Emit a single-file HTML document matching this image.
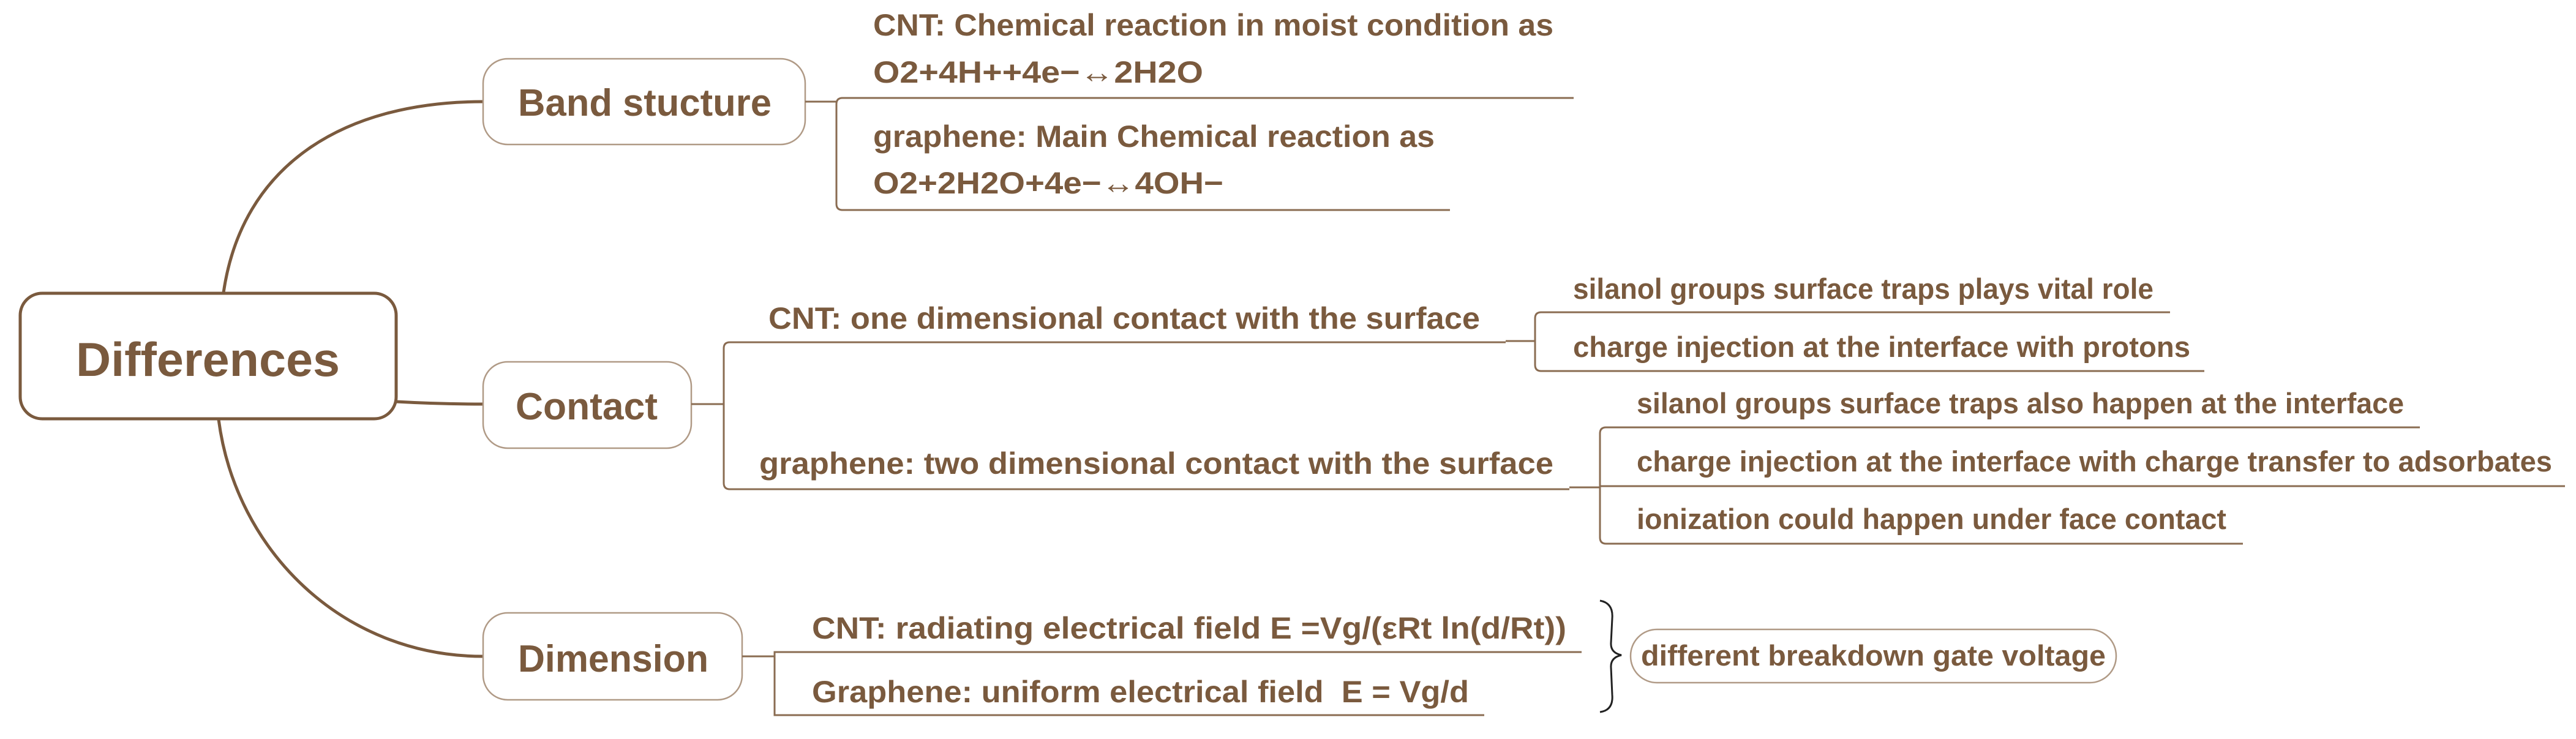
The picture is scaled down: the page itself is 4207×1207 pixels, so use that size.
<!DOCTYPE html>
<html><head><meta charset="utf-8"><style>
html,body{margin:0;padding:0;background:#fff;}
svg{display:block;}
text{font-family:"Liberation Sans","DejaVu Sans",sans-serif;font-weight:bold;fill:#7a5a3e;}
</style></head><body>
<svg width="4207" height="1207" viewBox="0 0 4207 1207" xmlns="http://www.w3.org/2000/svg">
<g fill="none" stroke="#7a5a3e" stroke-linecap="round">
  <path d="M365 478 C395 270 560 166 789 166" stroke-width="5"/>
  <path d="M647 656 C700 659 740 660 789 660" stroke-width="5"/>
  <path d="M357 685 C385 900 560 1072 789 1072" stroke-width="5"/>
</g>
<rect x="33" y="479" width="614" height="205" rx="36" fill="#fff" stroke="#7a5a3e" stroke-width="5"/>
<rect x="789" y="96" width="526" height="140" rx="40" fill="#fff" stroke="#b09a86" stroke-width="2.5"/>
<rect x="789" y="591" width="340" height="141" rx="40" fill="#fff" stroke="#b09a86" stroke-width="2.5"/>
<rect x="789" y="1001" width="423" height="142" rx="40" fill="#fff" stroke="#b09a86" stroke-width="2.5"/>
<rect x="2663" y="1028" width="793" height="87" rx="43" fill="#fff" stroke="#b09a86" stroke-width="2.5"/>

<g fill="none" stroke="#8a6c52" stroke-width="3">
  <path d="M1315 166 H1366"/>
  <path d="M2570 160 H1376 Q1366 160 1366 170 V333 Q1366 343 1376 343 H2368"/>
  <path d="M1129 660 H1182"/>
  <path d="M2459 559 H1192 Q1182 559 1182 569 V789 Q1182 799 1192 799 H2563"/>
  <path d="M2459 557 H2507"/>
  <path d="M3544 510 H2517 Q2507 510 2507 520 V596 Q2507 606 2517 606 H3600"/>
  <path d="M2563 796 H2613"/>
  <path d="M3952 698 H2623 Q2613 698 2613 708 V878 Q2613 888 2623 888 H3663"/>
  <path d="M2613 794 H4189"/>
  <path d="M1212 1072 H1265"/>
  <path d="M2583 1065 H1265 V1168 H2424"/>
</g>
<path d="M2613 981 Q2635 985 2633 1010 L2631 1050 Q2630 1066 2648 1070 Q2630 1074 2631 1090 L2633 1135 Q2635 1160 2613 1163" fill="none" stroke="#222" stroke-width="3"/>

<text x="124" y="614" font-size="78" textLength="431" lengthAdjust="spacingAndGlyphs">Differences</text>
<text x="846" y="189" font-size="62" textLength="414" lengthAdjust="spacingAndGlyphs">Band stucture</text>
<text x="842" y="685" font-size="62" textLength="232" lengthAdjust="spacingAndGlyphs">Contact</text>
<text x="846" y="1097" font-size="62" textLength="311" lengthAdjust="spacingAndGlyphs">Dimension</text>

<text x="1426" y="58" font-size="50" textLength="1111" lengthAdjust="spacingAndGlyphs">CNT: Chemical reaction in moist condition as</text>
<text x="1426" y="135" font-size="50" textLength="539" lengthAdjust="spacingAndGlyphs">O2+4H++4e−↔2H2O</text>
<text x="1426" y="240" font-size="50" textLength="917" lengthAdjust="spacingAndGlyphs">graphene: Main Chemical reaction as</text>
<text x="1426" y="316" font-size="50" textLength="572" lengthAdjust="spacingAndGlyphs">O2+2H2O+4e−↔4OH−</text>

<text x="1255" y="537" font-size="50" textLength="1162" lengthAdjust="spacingAndGlyphs">CNT: one dimensional contact with the surface</text>
<text x="1240" y="774" font-size="50" textLength="1297" lengthAdjust="spacingAndGlyphs">graphene: two dimensional contact with the surface</text>

<text x="2569" y="488" font-size="47" textLength="948" lengthAdjust="spacingAndGlyphs">silanol groups surface traps plays vital role</text>
<text x="2569" y="583" font-size="47" textLength="1008" lengthAdjust="spacingAndGlyphs">charge injection at the interface with protons</text>
<text x="2673" y="675" font-size="47" textLength="1253" lengthAdjust="spacingAndGlyphs">silanol groups surface traps also happen at the interface</text>
<text x="2673" y="770" font-size="47" textLength="1495" lengthAdjust="spacingAndGlyphs">charge injection at the interface with charge transfer to adsorbates</text>
<text x="2673" y="864" font-size="47" textLength="963" lengthAdjust="spacingAndGlyphs">ionization could happen under face contact</text>

<text x="1326" y="1043" font-size="50" textLength="1232" lengthAdjust="spacingAndGlyphs">CNT: radiating electrical field E =Vg/(εRt ln(d/Rt))</text>
<text x="1326" y="1147" font-size="50" textLength="1073" lengthAdjust="spacingAndGlyphs" xml:space="preserve">Graphene: uniform electrical field  E = Vg/d</text>
<text x="2680" y="1087" font-size="47" textLength="759" lengthAdjust="spacingAndGlyphs">different breakdown gate voltage</text>
</svg>
</body></html>
